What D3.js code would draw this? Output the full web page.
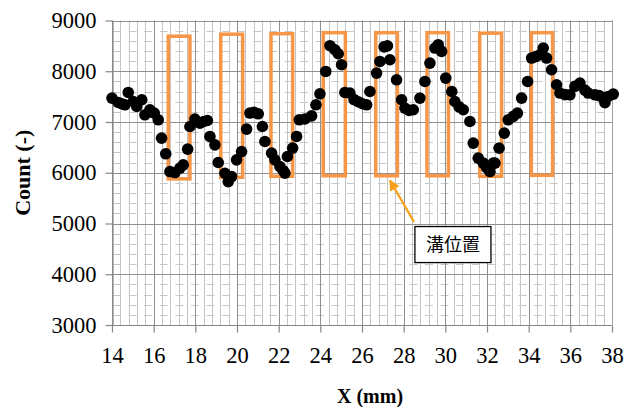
<!DOCTYPE html>
<html><head><meta charset="utf-8">
<script src="https://cdn.jsdelivr.net/npm/d3@7"></script>
<style>html,body{margin:0;padding:0;background:#fff;}svg{display:block;}</style>
</head><body>
<svg id="chart" width="633" height="407"></svg>
<script>
// ---- data ----
const posX = [14.00,14.30,14.46,14.62,14.78,15.02,15.19,15.43,15.58,15.82,16.03,16.22,16.38,16.58,16.78,17.02,17.26,17.42,17.63,17.74,17.98,18.22,18.40,18.58,18.70,18.94,19.10,19.42,19.58,19.74,19.98,20.22,20.46,20.62,20.82,21.02,21.22,21.34,21.66,21.82,22.06,22.22,22.30,22.42,22.67,22.86,22.99,23.26,23.58,23.79,23.98,24.26,24.46,24.70,24.86,25.02,25.18,25.42,25.62,25.82,26.02,26.22,26.38,26.70,26.86,27.06,27.22,27.34,27.66,27.90,28.06,28.26,28.46,28.78,29.02,29.26,29.50,29.66,29.82,30.02,30.31,30.46,30.66,30.86,31.18,31.34,31.58,31.82,31.98,32.14,32.30,32.38,32.58,32.83,33.02,33.26,33.46,33.66,33.95,34.14,34.34,34.54,34.70,34.86,35.10,35.34,35.50,35.74,35.98,36.22,36.46,36.70,36.86,37.18,37.38,37.58,37.66,37.82,38.06];
const counts = [7471,7385,7360,7339,7582,7404,7306,7438,7142,7241,7175,7043,6682,6373,6024,6004,6090,6156,6465,6911,7057,6978,7010,7030,6715,6550,6202,5990,5826,5925,6254,6418,6860,7176,7190,7162,6911,6616,6386,6254,6122,6040,5990,6320,6485,6715,7043,7060,7120,7339,7556,7996,8503,8424,8345,8128,7582,7570,7440,7400,7360,7339,7601,7964,8193,8480,8500,8227,7832,7438,7274,7230,7241,7471,7799,8161,8457,8523,8391,7865,7601,7404,7300,7241,7011,6584,6288,6189,6100,6024,6189,6189,6485,6781,7043,7110,7175,7471,7799,8260,8290,8325,8457,8260,8030,7734,7570,7540,7536,7701,7767,7630,7570,7536,7520,7480,7380,7503,7550];
// trench (溝) rectangles: start/end in mm, top/bottom in counts
const trenchStart = [16.70,19.22,21.63,24.14,26.66,29.12,31.65,34.13];
const trenchEnd   = [17.74,20.27,22.67,25.20,27.70,30.15,32.70,35.15];
const trenchTop   = [8690,8730,8740,8760,8760,8760,8750,8760];
const trenchBottom= [5880,5910,5930,5940,5940,5940,5930,5950];
const xTicks = [14,16,18,20,22,24,26,28,30,32,34,36,38];
const yTicks = [3000,4000,5000,6000,7000,8000,9000];
const xTitle = "X (mm)";
const yTitle = "Count (-)";
const noteText = "溝位置";
const noteBox = {x0:28.54, x1:32.19, y0:4940, y1:4230};
const noteArrow = {fromX:28.50, fromY:5030, toX:27.34, toY:5850};

// ---- layout ----
const W=633,H=407, L=112, R=612, T=20.5, B=325;
const svg=d3.select("#chart");
const x=d3.scaleLinear().domain([14,38]).range([L,R]);
const y=d3.scaleLinear().domain([3000,9000]).range([B,T]);

const grid=svg.append("g");
// minor vertical gridlines every 0.4 mm
const minorX=d3.range(0,61).map(i=>14+i*0.4).filter(v=>Math.abs((v-14)/2-Math.round((v-14)/2))>1e-6);
grid.selectAll(".mvx").data(minorX).enter().append("line")
  .attr("x1",d=>Math.round(x(d))+0.5).attr("x2",d=>Math.round(x(d))+0.5)
  .attr("y1",T).attr("y2",B).attr("stroke","#c4c4c4").attr("stroke-width",1);
// minor horizontal dashed every 200
const minorY=d3.range(3000,9001,200).filter(v=>v%1000!==0);
grid.selectAll(".mhy").data(minorY).enter().append("line")
  .attr("x1",L).attr("x2",R)
  .attr("y1",d=>Math.round(y(d))+0.5).attr("y2",d=>Math.round(y(d))+0.5)
  .attr("stroke","#c8c8c8").attr("stroke-width",1).attr("stroke-dasharray","8,7.6").attr("stroke-dashoffset",-1);
// major vertical
grid.selectAll(".Mvx").data(xTicks).enter().append("line")
  .attr("x1",d=>Math.round(x(d))+0.5).attr("x2",d=>Math.round(x(d))+0.5)
  .attr("y1",T).attr("y2",B).attr("stroke","#8f8f8f").attr("stroke-width",1);
// major horizontal
grid.selectAll(".Mhy").data(yTicks).enter().append("line")
  .attr("x1",L).attr("x2",R)
  .attr("y1",d=>Math.round(y(d))+0.5).attr("y2",d=>Math.round(y(d))+0.5)
  .attr("stroke","#8f8f8f").attr("stroke-width",1);
// right border
grid.append("line").attr("x1",R+0.5).attr("x2",R+0.5).attr("y1",T).attr("y2",B).attr("stroke","#a0a0a0");

// axes
const xAxis=d3.axisBottom(x).tickValues(xTicks).tickSize(7).tickSizeOuter(0).tickPadding(15).tickFormat(d3.format("d"));
const yAxis=d3.axisLeft(y).tickValues(yTicks).tickSize(7).tickSizeOuter(0).tickPadding(9).tickFormat(d3.format("d"));
const gx=svg.append("g").attr("transform",`translate(0,${Math.round(B)+0.5})`).call(xAxis);
const gy=svg.append("g").attr("transform",`translate(${L+0.5},0)`).call(yAxis);
[gx,gy].forEach(g=>{
  g.selectAll("path,line").attr("stroke","#868686").attr("stroke-width",1.2);
  g.selectAll("text").attr("fill","#000").style("font-family","'Liberation Serif','Times New Roman',serif").style("font-size","22.5px");
});
gx.select(".domain").attr("d",`M${L},0H${R}`);

// trench rectangles
svg.append("g").selectAll("rect").data(trenchStart).enter().append("rect")
  .attr("x",(d,i)=>x(d)).attr("width",(d,i)=>x(trenchEnd[i])-x(d))
  .attr("y",(d,i)=>y(trenchTop[i])).attr("height",(d,i)=>y(trenchBottom[i])-y(trenchTop[i]))
  .attr("fill","none").attr("stroke","#F79646").attr("stroke-width",3.5);

// points
svg.append("g").selectAll("circle").data(posX).enter().append("circle")
  .attr("cx",d=>x(d)).attr("cy",(d,i)=>y(counts[i])).attr("r",5.8).attr("fill","#000");

// annotation
const defs=svg.append("defs");
defs.append("marker").attr("id","ah").attr("viewBox","0 0 10 10").attr("refX",9).attr("refY",5)
  .attr("markerWidth",5).attr("markerHeight",5).attr("orient","auto")
  .append("path").attr("d","M0,0L10,5L0,10z").attr("fill","#F7A11A");
svg.append("line").attr("x1",x(noteArrow.fromX)).attr("y1",y(noteArrow.fromY))
  .attr("x2",x(noteArrow.toX)).attr("y2",y(noteArrow.toY))
  .attr("stroke","#F7A11A").attr("stroke-width",2.2).attr("marker-end","url(#ah)");
svg.append("rect").attr("x",x(noteBox.x0)).attr("y",y(noteBox.y0))
  .attr("width",x(noteBox.x1)-x(noteBox.x0)).attr("height",y(noteBox.y1)-y(noteBox.y0))
  .attr("fill","#fff").attr("stroke","#000").attr("stroke-width",1.3);
svg.append("text").attr("x",(x(noteBox.x0)+x(noteBox.x1))/2).attr("y",(y(noteBox.y0)+y(noteBox.y1))/2+6)
  .attr("text-anchor","middle").style("font-family","'Noto Sans CJK JP',sans-serif").style("font-size","18px")
  .text(noteText);

// titles
svg.append("text").attr("x",(L+R)/2+8).attr("y",403).attr("text-anchor","middle")
  .style("font-family","'Liberation Serif','Times New Roman',serif").style("font-weight","bold").style("font-size","20px")
  .text(xTitle);
svg.append("text").attr("transform",`translate(30,${(T+B)/2}) rotate(-90)`).attr("text-anchor","middle")
  .style("font-family","'Liberation Serif','Times New Roman',serif").style("font-weight","bold").style("font-size","22px")
  .text(yTitle);
</script>
</body></html>
